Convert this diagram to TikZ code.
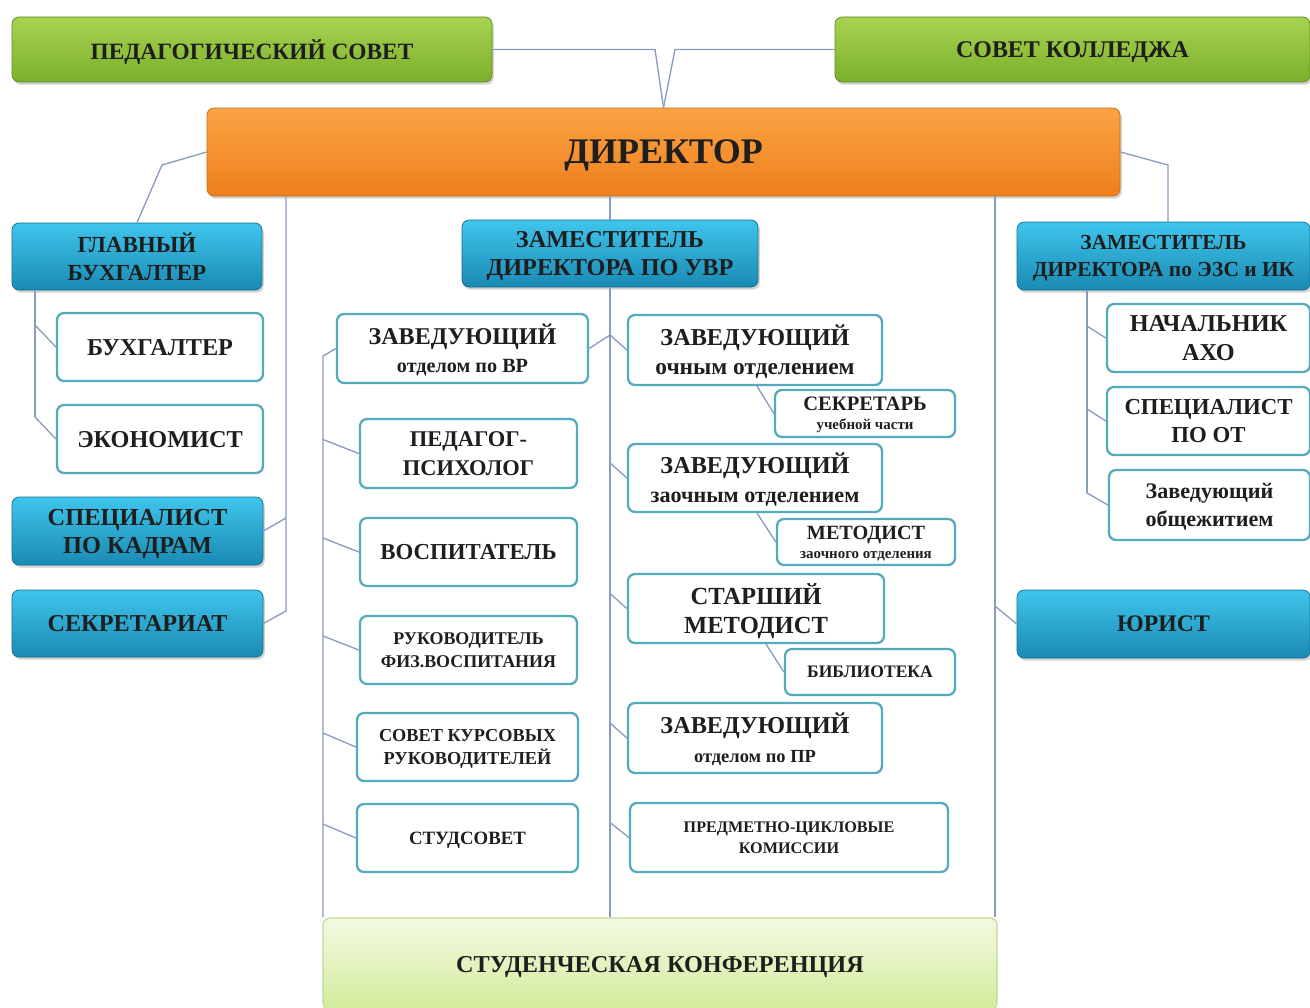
\documentclass[tikz,border=0pt]{standalone}
\usepackage{fontspec}
\setmainfont{Liberation Serif}
\usetikzlibrary{shadows,calc}
\definecolor{grtop}{HTML}{A8D352}
\definecolor{grbot}{HTML}{7BAF2A}
\definecolor{ortop}{HTML}{FBA445}
\definecolor{orbot}{HTML}{EE7F1C}
\definecolor{bltop}{HTML}{3FC5EC}
\definecolor{blbot}{HTML}{1A8AB3}
\definecolor{edge}{HTML}{55AABB}
\definecolor{cftop}{HTML}{F3F9E2}
\definecolor{cfbot}{HTML}{D3EC9B}
\definecolor{ink}{HTML}{1E1E1E}
\definecolor{wire}{HTML}{8A9BC2}
\newcommand{\fsz}[2]{\fontsize{#1}{#2}\selectfont}

\begin{document}
\begin{tikzpicture}[x=0.02cm, y=-0.02cm,
  wh/.style 2 args={minimum width=#1*0.02cm, minimum height=#2*0.02cm},
  base/.style={rectangle, rounded corners=4pt, inner sep=0pt, align=center, text=ink, text depth=0pt, font=\bfseries},
  greenbox/.style={base, top color=grtop, bottom color=grbot, draw=grbot!80!black, line width=0.4pt,
    drop shadow={shadow xshift=1pt, shadow yshift=-1.5pt, opacity=0.35}},
  orangebox/.style={base, top color=ortop, bottom color=orbot, draw=orbot!85!black, line width=0.4pt,
    drop shadow={shadow xshift=1pt, shadow yshift=-1.5pt, opacity=0.35}},
  bluebox/.style={base, top color=bltop, bottom color=blbot, draw=blbot!80!black, line width=0.4pt,
    drop shadow={shadow xshift=1pt, shadow yshift=-1.5pt, opacity=0.35}},
  whitebox/.style={base, fill=white, draw=edge, line width=1.3pt},
  confbox/.style={base, top color=cftop, bottom color=cfbot, draw=cfbot!80!gray, line width=0.6pt},
  link/.style={draw=wire, line width=0.75pt}]
\fill[white] (0,0) rectangle (1310,1007);
\useasboundingbox (0,0) rectangle (1310,1007);

\node[greenbox, wh={480}{65}, font=\bfseries\fsz{13.3}{15}] (pedsov) at (252,49.5) {ПЕДАГОГИЧЕСКИЙ СОВЕТ};
\node[greenbox, wh={475}{65}, font=\bfseries\fsz{13.6}{15}] (kolsov) at (1072.5,49.5) {СОВЕТ КОЛЛЕДЖА};
\node[orangebox, wh={913}{88}, font=\bfseries\fsz{20.5}{22}] (dir) at (663.5,152) {ДИРЕКТОР};

\node[bluebox, wh={250}{67}, font=\bfseries\fsz{13.1}{16}] (glbuh) at (137,256.5) {ГЛАВНЫЙ\\БУХГАЛТЕР};
\node[bluebox, wh={296}{67}, font=\bfseries\fsz{13.8}{16}] (zamuvr) at (610,253.5) {ЗАМЕСТИТЕЛЬ\\ДИРЕКТОРА ПО УВР};
\node[bluebox, wh={293}{68}, font=\bfseries\fsz{12.2}{15}] (zamezs) at (1163.5,256) {ЗАМЕСТИТЕЛЬ\\ДИРЕКТОРА по ЭЗС и ИК};

\node[whitebox, wh={206}{68}, font=\bfseries\fsz{13.8}{16}] (buh) at (160,347) {БУХГАЛТЕР};
\node[whitebox, wh={206}{68}, font=\bfseries\fsz{13.8}{16}] (ekon) at (160,439) {ЭКОНОМИСТ};
\node[bluebox, wh={251}{68}, font=\bfseries\fsz{13.9}{16}] (kadr) at (137.5,531) {СПЕЦИАЛИСТ\\ПО КАДРАМ};
\node[bluebox, wh={251}{67}, font=\bfseries\fsz{13.8}{16}] (sekr) at (137.5,623.5) {СЕКРЕТАРИАТ};

\node[whitebox, wh={251}{69}, font=\bfseries\fsz{13.7}{16}] (zavvr) at (462.5,348.5) {ЗАВЕДУЮЩИЙ\\{\fsz{11.5}{14}отделом по ВР}};
\node[whitebox, wh={217}{69}, font=\bfseries\fsz{12.8}{16}] (psih) at (468.5,453.5) {ПЕДАГОГ-\\ПСИХОЛОГ};
\node[whitebox, wh={217}{68}, font=\bfseries\fsz{13}{16}] (vosp) at (468.5,552) {ВОСПИТАТЕЛЬ};
\node[whitebox, wh={217}{68}, font=\bfseries\fsz{10.2}{13}] (fiz) at (468.5,650) {РУКОВОДИТЕЛЬ\\ФИЗ.ВОСПИТАНИЯ};
\node[whitebox, wh={221}{68}, font=\bfseries\fsz{10.4}{13}] (kurs) at (467.5,747) {СОВЕТ КУРСОВЫХ\\РУКОВОДИТЕЛЕЙ};
\node[whitebox, wh={221}{68}, font=\bfseries\fsz{10.7}{12}] (stud) at (467.5,838) {СТУДСОВЕТ};

\node[whitebox, wh={254}{70}, font=\bfseries\fsz{13.8}{16.5}] (zavoch) at (755,350) {ЗАВЕДУЮЩИЙ\\{\fsz{13.3}{15}очным отделением}};
\node[whitebox, wh={180}{47}, font=\bfseries\fsz{11.7}{11}] (sekruch) at (865,413.5) {СЕКРЕТАРЬ\\{\fsz{8.5}{10}учебной части}};
\node[whitebox, wh={254}{68}, font=\bfseries\fsz{13.8}{16.5}] (zavzaoch) at (755,478) {ЗАВЕДУЮЩИЙ\\{\fsz{12.6}{15}заочным отделением}};
\node[whitebox, wh={178}{46}, font=\bfseries\fsz{11.5}{11}] (metod) at (866,542) {МЕТОДИСТ\\{\fsz{8.5}{10}заочного отделения}};
\node[whitebox, wh={256}{69}, font=\bfseries\fsz{14}{17}] (starmet) at (756,608.5) {СТАРШИЙ\\МЕТОДИСТ};
\node[whitebox, wh={170}{46}, font=\bfseries\fsz{10}{12}] (bibl) at (870,672) {БИБЛИОТЕКА};
\node[whitebox, wh={254}{70}, font=\bfseries\fsz{13.8}{16.5}] (zavpr) at (755,738) {ЗАВЕДУЮЩИЙ\\{\fsz{10.5}{13}отделом по ПР}};
\node[whitebox, wh={318}{69}, font=\bfseries\fsz{9.2}{12}] (pck) at (789,837.5) {ПРЕДМЕТНО-ЦИКЛОВЫЕ\\КОМИССИИ};

\node[whitebox, wh={203}{68}, font=\bfseries\fsz{13.8}{16}] (aho) at (1208.5,338) {НАЧАЛЬНИК\\АХО};
\node[whitebox, wh={203}{68}, font=\bfseries\fsz{13}{16}] (ot) at (1208.5,421) {СПЕЦИАЛИСТ\\ПО ОТ};
\node[whitebox, wh={201}{70}, font=\bfseries\fsz{12.6}{16}] (obsh) at (1209.5,505) {Заведующий\\общежитием};
\node[bluebox, wh={293}{68}, font=\bfseries\fsz{13.5}{16}] (yur) at (1163.5,624) {ЮРИСТ};

\node[confbox, wh={674}{92}, font=\bfseries\fsz{13.8}{16}] (konf) at (660,964) {СТУДЕНЧЕСКАЯ КОНФЕРЕНЦИЯ};

\coordinate (vl) at (655,49.5);
\coordinate (vr) at (675,49.5);
\coordinate (lk) at (162,165);
\coordinate (rk) at (1168,165);
\coordinate (kj) at (286,518);
\coordinate (sj) at (286,611);
\coordinate (ax) at (35,0);
\coordinate (lx) at (323,356);
\coordinate (cx) at (610,0);
\coordinate (yx) at (995,606);
\coordinate (ex) at (1087,0);

\draw[link] (pedsov.east) -- (vl) -- (dir.north);
\draw[link] (kolsov.west) -- (vr) -- (dir.north);
\draw[link] (dir.west) -- (lk) -- (glbuh.north);
\draw[link] (dir.east) -- (rk) -- (rk |- zamezs.north);

\draw[link] (dir.south -| sj) -- (sj) -- (sekr.east);
\draw[link] (kj) -- (kadr.east);

\draw[link] (glbuh.south -| ax) -- ($(ekon.west -| ax)+(0,-22)$);
\foreach \n in {buh,ekon}
  \draw[link] ($(\n.west -| ax)+(0,-22)$) -- (\n.west);

\draw[link] (dir.south -| zamuvr) -- (zamuvr.north);
\draw[link] (zamuvr.south) -- (zamuvr.south |- konf.north);
\draw[link] (zavvr.east) -- ($(zavoch.west -| cx)+(0,-15)$);
\foreach \n in {zavoch,zavzaoch,starmet,zavpr,pck}
  \draw[link] ($(\n.west -| cx)+(0,-15)$) -- (\n.west);

\draw[link] (zavvr.west) -- (lx) -- (lx |- konf.north);
\foreach \n in {psih,vosp,fiz,kurs,stud}
  \draw[link] ($(\n.west -| lx)+(0,-14)$) -- (\n.west);

\draw[link] ($(zavoch.south)+(2,0)$) -- (sekruch.west);
\draw[link] ($(zavzaoch.south)+(2,0)$) -- (metod.west);
\draw[link] ($(starmet.south)+(10,0)$) -- (bibl.west);

\draw[link] (dir.south -| yx) -- (yx |- konf.north);
\draw[link] (yx) -- (yur.west);

\draw[link] (zamezs.south -| ex) -- ($(obsh.west -| ex)+(0,-12)$);
\foreach \n in {aho,ot,obsh}
  \draw[link] ($(\n.west -| ex)+(0,-12)$) -- (\n.west);
\end{tikzpicture}
\end{document}
